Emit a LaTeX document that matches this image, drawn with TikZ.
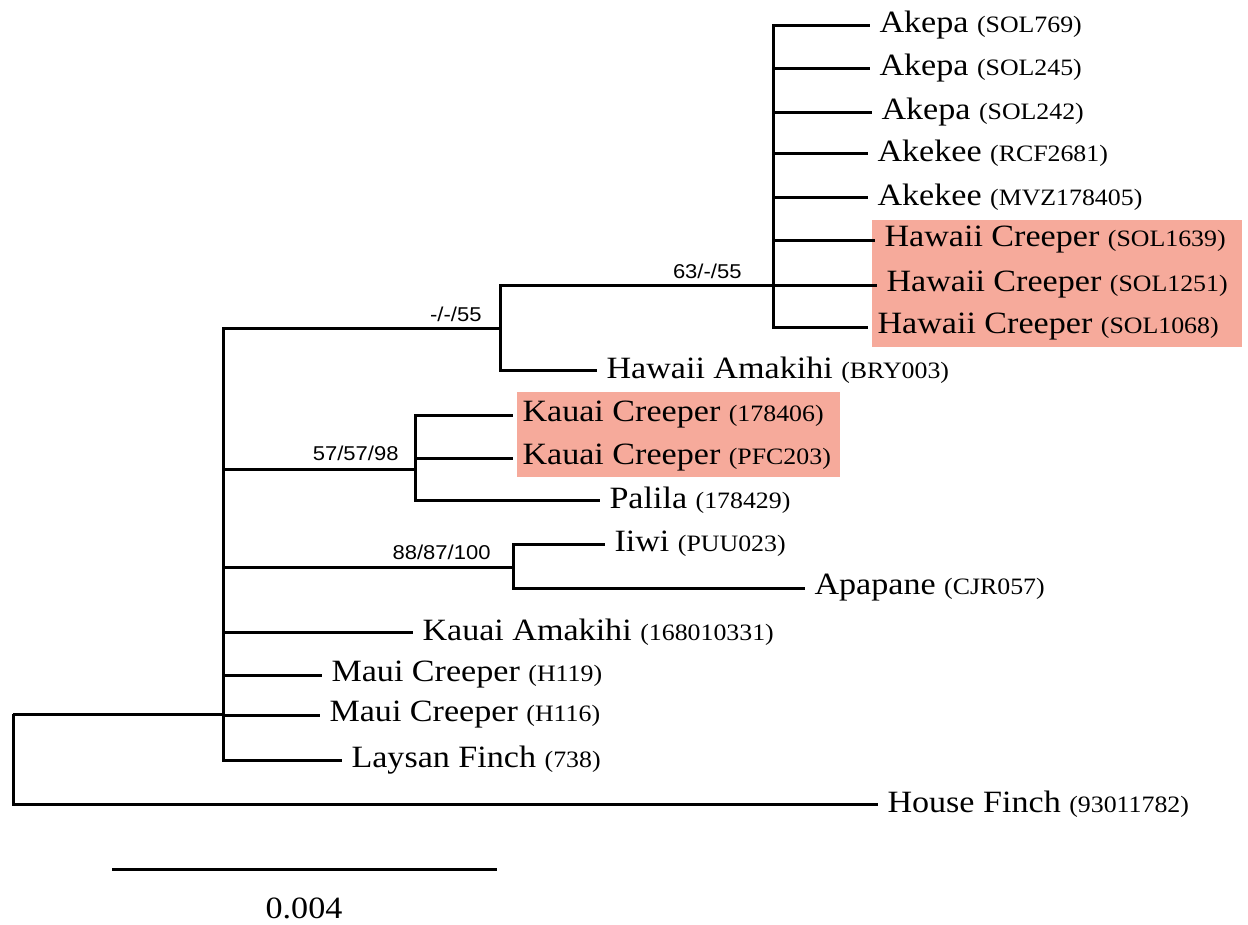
\documentclass[tikz,border=0pt]{standalone}
\usepackage{fontspec}
\setmainfont{Liberation Serif}[FakeStretch=1.1]
\newfontfamily\supfont{Liberation Sans}[FakeStretch=1.1]
\usepackage{xcolor}
\definecolor{creeperpink}{RGB}{246,170,155}
\newcommand{\voucher}[1]{{\fontsize{23.5}{25}\selectfont(#1)}}

\begin{document}
\begin{tikzpicture}[x=1pt,y=-1pt,line width=3pt,
  leaf/.style={anchor=west,inner xsep=8pt,inner ysep=0pt,font=\fontsize{31}{34}\selectfont},
  support/.style={anchor=east,inner sep=0pt,font=\supfont\fontsize{20}{22}\selectfont}]
\useasboundingbox (0,0) rectangle (1248,924);
% highlighted creepers
\fill[creeperpink] (872,220) rectangle (1242,347);
\fill[creeperpink] (517,392) rectangle (840,477);
% internal nodes
\coordinate (root) at (13,714);
\coordinate (core) at (223,714);
\coordinate (amak) at (500,328);
\coordinate (akep) at (773,285);
\coordinate (kaua) at (415,469);
\coordinate (iiwi) at (513,567);
% leaves
\node[leaf] (ak1) at (870,25) {Akepa \voucher{SOL769}};
\node[leaf] (ak2) at (870,68) {Akepa \voucher{SOL245}};
\node[leaf] (ak3) at (872,112) {Akepa \voucher{SOL242}};
\node[leaf] (ke1) at (868,153) {Akekee \voucher{RCF2681}};
\node[leaf] (ke2) at (868,197) {Akekee \voucher{MVZ178405}};
\node[leaf] (hc1) at (875,240) {Hawaii Creeper \voucher{SOL1639}};
\node[leaf] (hc2) at (877,285) {Hawaii Creeper \voucher{SOL1251}};
\node[leaf] (hc3) at (868,327) {Hawaii Creeper \voucher{SOL1068}};
\node[leaf] (ha) at (597,370) {Hawaii Amakihi \voucher{BRY003}};
\node[leaf] (kc1) at (513,415) {Kauai Creeper \voucher{178406}};
\node[leaf] (kc2) at (513,458) {Kauai Creeper \voucher{PFC203}};
\node[leaf] (pa) at (600,500) {Palila \voucher{178429}};
\node[leaf] (iw) at (605,544) {Iiwi \voucher{PUU023}};
\node[leaf] (ap) at (805,588) {Apapane \voucher{CJR057}};
\node[leaf] (ka) at (413,632) {Kauai Amakihi \voucher{168010331}};
\node[leaf] (mc1) at (322,675) {Maui Creeper \voucher{H119}};
\node[leaf] (mc2) at (320,715) {Maui Creeper \voucher{H116}};
\node[leaf] (lf) at (342,760) {Laysan Finch \voucher{738}};
\node[leaf] (hf) at (878,804) {House Finch \voucher{93011782}};
% branches
\draw (root) |- (core);
\draw (root) |- (hf.west);
\draw (core) |- (amak);
\draw (core) |- (kaua);
\draw (core) |- (iiwi);
\draw (core) |- (ka.west);
\draw (core) |- (mc1.west);
\draw (core) |- (mc2.west);
\draw (core) |- (lf.west);
\draw (amak) |- (akep);
\draw (amak) |- (ha.west);
\foreach \t in {ak1,ak2,ak3,ke1,ke2,hc1,hc2,hc3}
  \draw (akep) |- (\t.west);
\draw (kaua) |- (kc1.west);
\draw (kaua) |- (kc2.west);
\draw (kaua) |- (pa.west);
\draw (iiwi) |- (iw.west);
\draw (iiwi) |- (ap.west);
% support values
\node[support] (s1) at (743,271) {63/-/55};
\node[support] (s2) at (483,314) {-/-/55};
\node[support] (s3) at (400,453) {57/57/98};
\node[support] (s4) at (492,552) {88/87/100};
% scale bar
\coordinate (bar-l) at (112,869);
\coordinate (bar-r) at (497,869);
\draw (bar-l) -- (bar-r);
\node[inner sep=0pt,font=\fontsize{31}{34}\selectfont] (scale) at (304,908) {0.004};
\end{tikzpicture}
\end{document}
